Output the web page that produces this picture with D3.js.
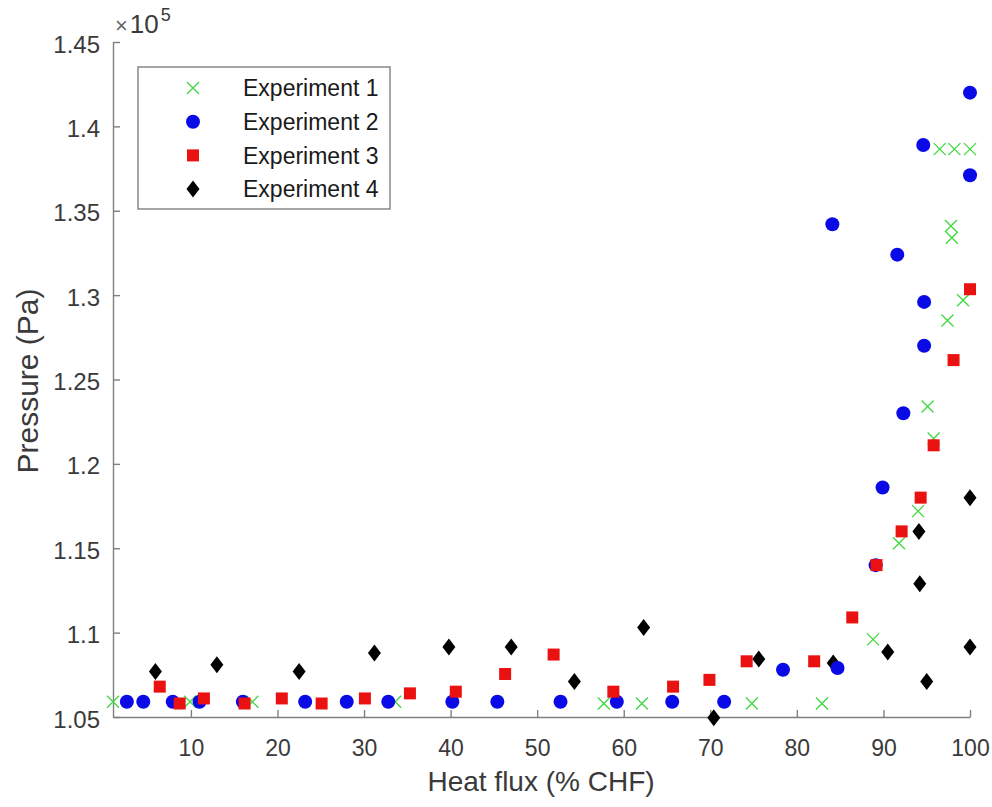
<!DOCTYPE html>
<html>
<head>
<meta charset="utf-8">
<script src="https://cdn.jsdelivr.net/npm/d3@7"></script>
<style>
  body { margin: 0; background: #fff; }
  svg { display: block; font-family: "Liberation Sans", Arial, sans-serif; }
</style>
</head>
<body>
<svg width="992" height="807"></svg>
<script>
// heat flux (% CHF) and pressure (Pa)
const exp1X = [1.0, 9.9, 17.1, 33.6, 57.7, 62.1, 74.8, 82.9, 88.8, 91.8, 94.0, 95.8, 95.1, 97.4, 99.2, 97.8, 97.9, 96.5, 98.2, 100];
const exp1Y = [105900, 105900, 105900, 105900, 105800, 105800, 105800, 105800, 109600, 115300, 117200, 121500, 123400, 128500, 129700, 134100, 133400, 138650, 138650, 138650];

const exp2X = [2.6, 4.5, 7.9, 11.0, 16.0, 23.2, 28.0, 32.8, 40.2, 45.4, 52.7, 59.2, 65.6, 71.6, 78.4, 84.7, 84.1, 89.1, 89.9, 91.6, 92.3, 94.6, 94.7, 94.7, 100, 100];
const exp2Y = [105900, 105900, 105900, 105900, 105900, 105900, 105900, 105900, 105900, 105900, 105900, 105900, 105900, 105900, 107800, 107900, 134200, 114000, 118600, 132400, 123000, 138900, 129600, 127000, 142000, 137100];

const exp3X = [6.4, 8.7, 11.5, 16.2, 20.5, 25.1, 30.1, 35.3, 40.6, 46.3, 51.9, 58.8, 65.7, 69.9, 74.2, 82.0, 86.4, 89.2, 92.1, 94.3, 95.8, 98.1, 100];
const exp3Y = [106800, 105800, 106100, 105800, 106100, 105800, 106100, 106400, 106500, 107550, 108700, 106500, 106800, 107200, 108300, 108300, 110900, 114000, 116000, 118000, 121100, 126150, 130350];

const exp4X = [5.9, 13.0, 22.5, 31.2, 39.8, 47.0, 54.3, 62.3, 70.4, 75.6, 84.2, 90.5, 95.0, 100, 94.2, 94.1, 100];
const exp4Y = [107700, 108100, 107700, 108800, 109150, 109150, 107100, 110300, 104950, 108430, 108200, 108850, 107100, 109150, 112900, 116000, 118000];

const seriesNames = ["Experiment 1", "Experiment 2", "Experiment 3", "Experiment 4"];
const xTicks = [10, 20, 30, 40, 50, 60, 70, 80, 90, 100];
const yTicks = [105000, 110000, 115000, 120000, 125000, 130000, 135000, 140000, 145000];

const svg = d3.select("svg");
const area = { left: 113, right: 970, top: 42, bottom: 717 };
const axisColor = "#808080";
const textColor = "#3a3a3a";

const scaleX = d3.scaleLinear().domain([1, 100]).range([area.left, area.right]);
const scaleY = d3.scaleLinear().domain([105000, 145000]).range([area.bottom, area.top]);

function styleAxis(g, fontSize) {
    g.select(".domain").attr("stroke", axisColor).attr("stroke-width", 1.4);
    g.selectAll(".tick line").attr("stroke", axisColor).attr("stroke-width", 1.4);
    g.selectAll(".tick text").attr("fill", textColor).style("font-size", fontSize + "px");
}

// axes (MATLAB-like: inward ticks, box off)
svg.append("g")
    .attr("transform", `translate(0, ${area.bottom})`)
    .call(d3.axisBottom(scaleX).tickValues(xTicks).tickSize(-7).tickSizeOuter(0).tickPadding(23))
    .call(g => styleAxis(g, 23));

svg.append("g")
    .attr("transform", `translate(${area.left}, 0)`)
    .call(d3.axisLeft(scaleY).tickValues(yTicks).tickSize(-7).tickSizeOuter(0).tickPadding(13)
        .tickFormat(d => d3.format("")(+(d / 1e5).toFixed(2))))
    .call(g => styleAxis(g, 24))
    .call(g => g.selectAll(".tick text").attr("dy", "0.42em"));

// exponent label
const expo = svg.append("text")
    .attr("x", 115)
    .attr("y", 33)
    .attr("fill", textColor);
expo.append("tspan").style("font-size", "22px").attr("fill", "#666").text("×");
expo.append("tspan").attr("dx", 2).style("font-size", "26px").text("10");
expo.append("tspan").attr("dx", 2).attr("dy", -12).style("font-size", "18px").text("5");

// axis titles
svg.append("text")
    .attr("x", 541)
    .attr("y", 791)
    .attr("text-anchor", "middle")
    .attr("fill", textColor)
    .style("font-size", "28px")
    .text("Heat flux (% CHF)");

svg.append("text")
    .attr("transform", "translate(38, 381) rotate(-90)")
    .attr("text-anchor", "middle")
    .attr("fill", textColor)
    .style("font-size", "30px")
    .text("Pressure (Pa)");

// marker painters
const markers = [
    (g, x, y) => g.append("path")
        .attr("d", `M${x - 6},${y - 6}L${x + 6},${y + 6}M${x - 6},${y + 6}L${x + 6},${y - 6}`)
        .attr("stroke", "#3fd83f").attr("stroke-width", 1.3).attr("fill", "none"),
    (g, x, y) => g.append("circle")
        .attr("cx", x).attr("cy", y).attr("r", 7).attr("fill", "#0a0ae6"),
    (g, x, y) => g.append("rect")
        .attr("x", x - 6).attr("y", y - 6).attr("width", 12).attr("height", 12).attr("fill", "#ea1111"),
    (g, x, y) => g.append("path")
        .attr("d", `M${x},${y - 8.5}L${x + 6.5},${y}L${x},${y + 8.5}L${x - 6.5},${y}Z`)
        .attr("fill", "#000")
];

const series = [
    { xs: exp1X, ys: exp1Y, m: 0 },
    { xs: exp4X, ys: exp4Y, m: 3 },
    { xs: exp2X, ys: exp2Y, m: 1 },
    { xs: exp3X, ys: exp3Y, m: 2 }
];

const plot = svg.append("g");
series.forEach(s => {
    const pts = s.xs.map((x, i) => [x, s.ys[i]]);
    const g = plot.append("g");
    pts.forEach(p => markers[s.m](g, scaleX(p[0]), scaleY(p[1])));
});

// legend
const legend = svg.append("g");
legend.append("rect")
    .attr("x", 138).attr("y", 67).attr("width", 252).attr("height", 142)
    .attr("fill", "#fff").attr("stroke", axisColor).attr("stroke-width", 1.4);

seriesNames.forEach((name, i) => {
    const cy = 88 + i * 33.7;
    markers[i](legend, 193, cy);
    legend.append("text")
        .attr("x", 243)
        .attr("y", cy)
        .attr("dy", "0.36em")
        .attr("fill", "#1a1a1a")
        .style("font-size", "23px")
        .text(name);
});
</script>
</body>
</html>
